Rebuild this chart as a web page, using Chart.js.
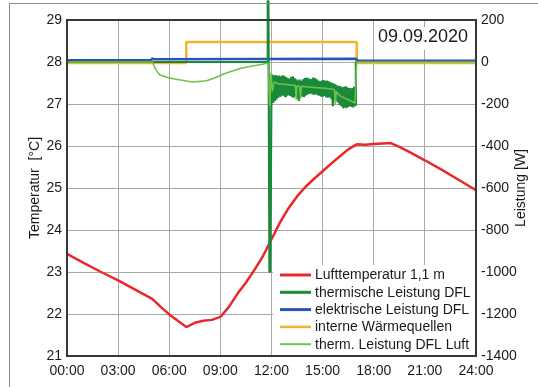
<!DOCTYPE html>
<html><head><meta charset="utf-8">
<script src="https://cdn.jsdelivr.net/npm/chart.js@4.4.1/dist/chart.umd.min.js"></script>
<style>
html,body{margin:0;padding:0;background:#fff;}
#wrap{position:relative;width:538px;height:387px;overflow:hidden;background:#fff;}
#frame{position:absolute;left:9px;top:3px;width:600px;height:500px;border-left:1px solid #8c8c8c;border-top:1px solid #8c8c8c;pointer-events:none;}
canvas{position:absolute;left:0;top:0;}
</style></head><body>
<div id="wrap"><canvas id="c" width="538" height="387"></canvas><div id="frame"></div></div>
<script>
// ---------- data ----------
const xTickLabels = ['00:00','03:00','06:00','09:00','12:00','15:00','18:00','21:00','24:00'];
const dateLabel = '09.09.2020';
const rightTitle = 'Leistung [W]';
const seriesLabels = ['Lufttemperatur 1,1 m','thermische Leistung DFL','elektrische Leistung DFL','interne Wärmequellen','therm. Leistung DFL Luft'];

// Lufttemperatur 1,1 m [°C]
const luftTime = [0,1,2,3,4,5,5.5,6,6.5,7,7.5,8,8.5,9,9.5,10,10.5,11,11.5,12,12.5,13,13.5,14,14.5,15,15.5,16,16.5,17,17.5,18,18.5,19,19.5,20,21,22,23,24];
const luftTemp = [23.43,23.21,23.0,22.8,22.58,22.36,22.17,21.99,21.84,21.69,21.79,21.84,21.86,21.93,22.17,22.48,22.75,23.05,23.38,23.78,24.18,24.52,24.8,25.03,25.22,25.4,25.58,25.75,25.92,26.04,26.03,26.05,26.06,26.07,25.98,25.88,25.66,25.43,25.19,24.95];

// thermische Leistung DFL [W]
const thermTime = [0,11.75,11.78,11.82,11.88,11.93,12.0,
  12.05,12.1,12.15,12.2,12.25,12.3,12.35,12.4,12.45,12.5,12.55,12.6,12.65,12.7,12.75,12.8,12.85,12.9,12.95,13.0,
  13.05,13.1,13.15,13.2,13.25,13.3,13.35,13.4,13.45,13.5,13.55,13.6,13.65,13.7,13.75,13.8,13.85,13.9,13.95,14.0,
  14.05,14.1,14.15,14.2,14.25,14.3,14.35,14.4,14.45,14.5,14.55,14.6,14.65,14.7,14.75,14.8,14.85,14.9,14.95,15.0,
  15.05,15.1,15.15,15.2,15.25,15.3,15.35,15.4,15.45,15.5,15.55,15.6,15.65,15.7,15.75,15.8,15.85,15.9,15.95,16.0,
  16.05,16.1,16.15,16.2,16.25,16.3,16.35,16.4,16.45,16.5,16.55,16.6,16.65,16.7,16.75,16.8,16.85,16.9,16.95,17.0,24];
const thermPower = [0,0,290,290,-1000,-1000,-90,
  -60,-195,-65,-185,-62,-178,-66,-170,-64,-162,-68,-158,-63,-160,-66,-164,-72,-160,-76,-158,
  -80,-162,-72,-166,-68,-170,-76,-162,-82,-168,-88,-185,-84,-166,-90,-164,-82,-168,-76,-160,
  -74,-156,-78,-152,-84,-150,-80,-154,-74,-152,-76,-150,-82,-158,-88,-160,-92,-164,-88,-166,
  -86,-162,-90,-164,-88,-170,-92,-168,-96,-172,-100,-210,-102,-178,-106,-184,-112,-192,-114,-205,
  -116,-210,-120,-216,-118,-212,-116,-220,-120,-214,-124,-210,-128,-214,-124,-216,-118,-205,0,0];

// elektrische Leistung DFL [W]
const elekTime = [0,4.95,5.0,5.1,16.98,17.05,24];
const elekPower = [8,8,18,13,15,6,6];

// interne Wärmequellen [W]
const waermeTime = [0,7.0,7.0,17.0,17.0,24];
const waermePower = [-5,-5,95,95,-5,-5];

// therm. Leistung DFL Luft [W]
const luftLeistTime = [0,5.0,5.2,5.45,6.0,6.5,7.0,7.4,8.2,8.7,9.2,9.7,10.2,10.8,11.4,11.8,11.9,11.97,12.05,12.15,12.4,13.0,13.4,13.45,13.5,13.65,13.7,13.75,14.0,14.5,15.0,15.5,15.7,15.75,15.8,16.0,16.5,16.9,17.0,24];
const luftLeistPower = [0,0,-35,-62,-76,-83,-90,-95,-89,-75,-57,-43,-30,-20,-12,-5,-210,-50,-140,-95,-104,-108,-112,-180,-113,-115,-175,-116,-118,-121,-124,-128,-132,-205,-140,-160,-180,-195,0,0];

// ---------- chart ----------
const FONT = '"Liberation Sans", Arial, sans-serif';
Chart.defaults.font.family = FONT;
Chart.defaults.font.size = 14;
Chart.defaults.color = '#1a1a1a';

const pts = (xs, ys) => xs.map((x, i) => ({x: x, y: ys[i]}));
const colors = ['#e8282b','#1a8a3a','#2a55b5','#f2b32e','#6dc24b'];
const widths = [2.5,2.2,2.5,2.5,1.5];
const legendWidths = [3,3,3,2.5,2];

const boxLegend = {
  id: 'boxLegend',
  afterDraw(chart) {
    const ctx = chart.ctx, a = chart.chartArea;
    ctx.save();
    // legend box
    const lx = a.left + 206, ly = a.bottom - 91;
    ctx.fillStyle = '#fff';
    ctx.fillRect(lx, ly, a.right - lx, a.bottom - ly);
    chart.data.datasets.forEach((ds, i) => {
      const y = ly + 10 + i * 17.3;
      ctx.strokeStyle = ds.borderColor;
      ctx.lineWidth = legendWidths[i];
      ctx.beginPath(); ctx.moveTo(lx + 7, y); ctx.lineTo(lx + 38, y); ctx.stroke();
      ctx.fillStyle = '#1a1a1a';
      ctx.font = '14px ' + FONT;
      ctx.textBaseline = 'middle';
      ctx.textAlign = 'left';
      ctx.fillText(ds.label, lx + 42, y + 0.5);
    });
    // date label
    ctx.fillStyle = '#fff';
    ctx.fillRect(a.left + 311, a.top + 7, a.right - a.left - 312, 23);
    ctx.fillStyle = '#1a1a1a';
    ctx.font = '18px ' + FONT;
    ctx.textBaseline = 'middle';
    ctx.fillText(dateLabel, a.left + 311, a.top + 17);
    // right axis title (reads bottom to top)
    ctx.save();
    ctx.translate(chart.width - 17, (a.top + a.bottom) / 2);
    ctx.rotate(-Math.PI / 2);
    ctx.font = '14px ' + FONT;
    ctx.textAlign = 'center';
    ctx.textBaseline = 'middle';
    ctx.fillText(rightTitle, 0, 0);
    ctx.restore();
    // plot frame
    ctx.strokeStyle = '#383838';
    ctx.lineWidth = 2;
    ctx.strokeRect(a.left, a.top, a.right - a.left, a.bottom - a.top);
    ctx.restore();
  }
};

const datasets = [
  {label: seriesLabels[0], data: pts(luftTime, luftTemp), yAxisID: 'y', order: 3},
  {label: seriesLabels[1], data: pts(thermTime, thermPower), yAxisID: 'y1', order: 1, clip: false},
  {label: seriesLabels[2], data: pts(elekTime, elekPower), yAxisID: 'y1', order: 2},
  {label: seriesLabels[3], data: pts(waermeTime, waermePower), yAxisID: 'y1', order: 4},
  {label: seriesLabels[4], data: pts(luftLeistTime, luftLeistPower), yAxisID: 'y1', order: 0}
].map((d, i) => Object.assign(d, {
  borderColor: colors[i], backgroundColor: colors[i], borderWidth: widths[i],
  borderJoinStyle: 'bevel',
  pointRadius: 0, tension: 0, fill: false
}));

new Chart(document.getElementById('c'), {
  type: 'line',
  data: {datasets},
  options: {
    responsive: false,
    animation: false,
    devicePixelRatio: 1,
    layout: {padding: {top: 20, left: 0, right: 0, bottom: 0}},
    plugins: {legend: {display: false}, tooltip: {enabled: false}},
    scales: {
      x: {
        type: 'linear', min: 0, max: 24,
        ticks: {stepSize: 3, autoSkip: false, maxRotation: 0, padding: 7,
          callback: (v) => xTickLabels[v / 3]},
        grid: {color: '#a8a8a8', lineWidth: 1, drawTicks: false},
        border: {display: false},
        afterFit: (s) => { s.height = 31; }
      },
      y: {
        position: 'left', min: 21, max: 29,
        ticks: {stepSize: 1, padding: 5, callback: (v) => String(v)},
        grid: {color: '#a8a8a8', lineWidth: 1, drawTicks: false},
        border: {display: false},
        title: {display: true, text: 'Temperatur  [°C]', font: {size: 14}, padding: {top: 26.6, bottom: 0}},
        afterFit: (s) => { s.width = 67; }
      },
      y1: {
        position: 'right', min: -1400, max: 200,
        ticks: {stepSize: 200, padding: 5, callback: (v) => String(v)},
        grid: {display: false, drawTicks: false},
        border: {display: false},
        afterFit: (s) => { s.width = 62; }
      }
    }
  },
  plugins: [boxLegend]
});
</script>
</body></html>
